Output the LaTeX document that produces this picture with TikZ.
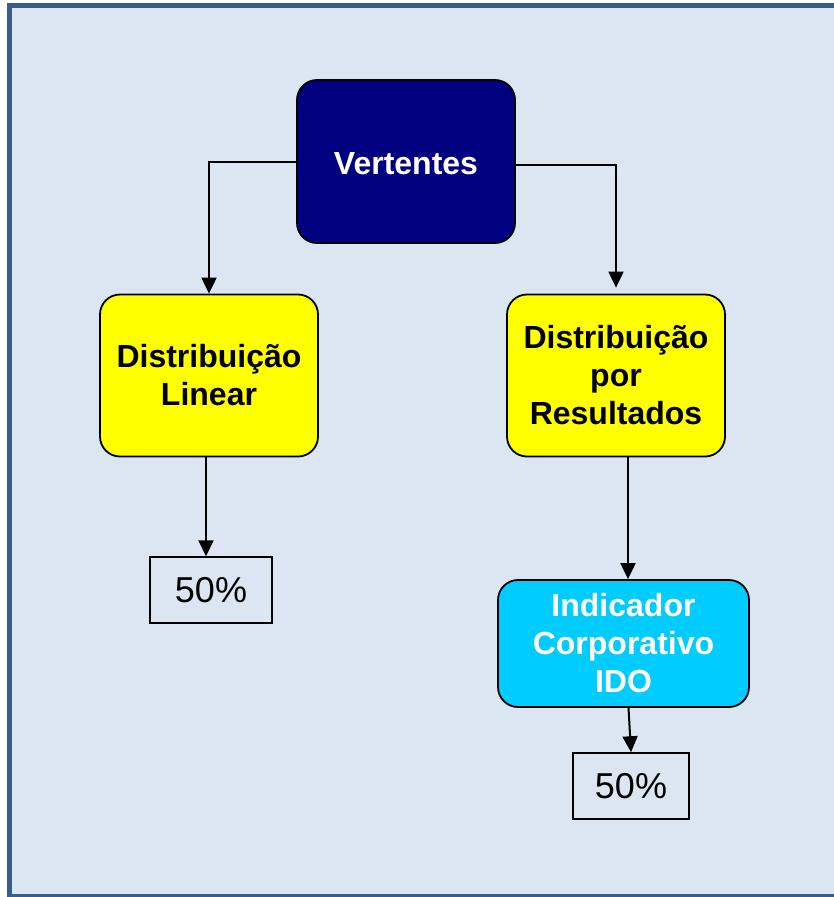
\documentclass[tikz,border=0pt]{standalone}
\usepackage{xcolor}
\usepackage{fontspec}
\setmainfont{Liberation Sans}
\usepackage{tikz}
\usetikzlibrary{positioning,arrows.meta}
\definecolor{framebg}{HTML}{DCE6F2}
\definecolor{frameline}{HTML}{385D8A}
\definecolor{navybox}{HTML}{000080}
\definecolor{yellowbox}{HTML}{FFFF00}
\definecolor{cyanbox}{HTML}{00CCFF}

\begin{document}
\begin{tikzpicture}[
            x=1pt, y=-1pt,
            box/.style={draw, line width=1.8pt, rounded corners=20pt, align=center, inner sep=0pt,
                font=\bfseries\fontsize{32}{38}\selectfont},
            pct/.style={draw, line width=1.5pt, inner sep=0pt, font=\fontsize{36}{40}\selectfont},
            link/.style={-{Triangle[length=16pt,width=15pt]}, line width=2pt}
        ]
            \useasboundingbox (0,0) rectangle (834,897);
            \clip (0,0) rectangle (834,897);
            % Frame
            \draw[frameline, fill=framebg, line width=5pt] (9.5,5.5) rectangle (870,896.5);
            % Boxes
            \node[box, fill=navybox, text=white, minimum width=218pt, minimum height=163pt] (v) at (406,161.5) {\raisebox{-2pt}[\height][0pt]{Vertentes}};
            \node[box, fill=yellowbox, minimum width=218pt, minimum height=162pt] (d1) at (209,375.5) {Distribuição\\Linear};
            \node[box, fill=yellowbox, minimum width=218pt, minimum height=162pt] (d2) at (616,375.5) {Distribuição\\por\\Resultados};
            \node[box, fill=cyanbox, text=white, minimum width=251pt, minimum height=127pt] (ido) at (623.5,643.5) {Indicador\\Corporativo\\IDO};
            \node[pct, minimum width=122pt, minimum height=66pt] (p1) at (211,590) {50\%};
            \node[pct, minimum width=116pt, minimum height=66pt] (p2) at (631,786) {50\%};
            % Edges
            \draw[link] (v.west) -| (d1.north);
            \draw[link] ([yshift=-3pt]v.east) -| ([yshift=6pt]d2.north);
            \draw[link] ([xshift=-3pt]d1.south) -- ([xshift=-3pt]d1.south |- p1.north);
            \draw[link] ([xshift=12pt]d2.south) -- ([xshift=12pt]d2.south |- ido.north);
            \draw[link] ([xshift=5pt]ido.south) -- (p2.north);
\end{tikzpicture}
\end{document}
